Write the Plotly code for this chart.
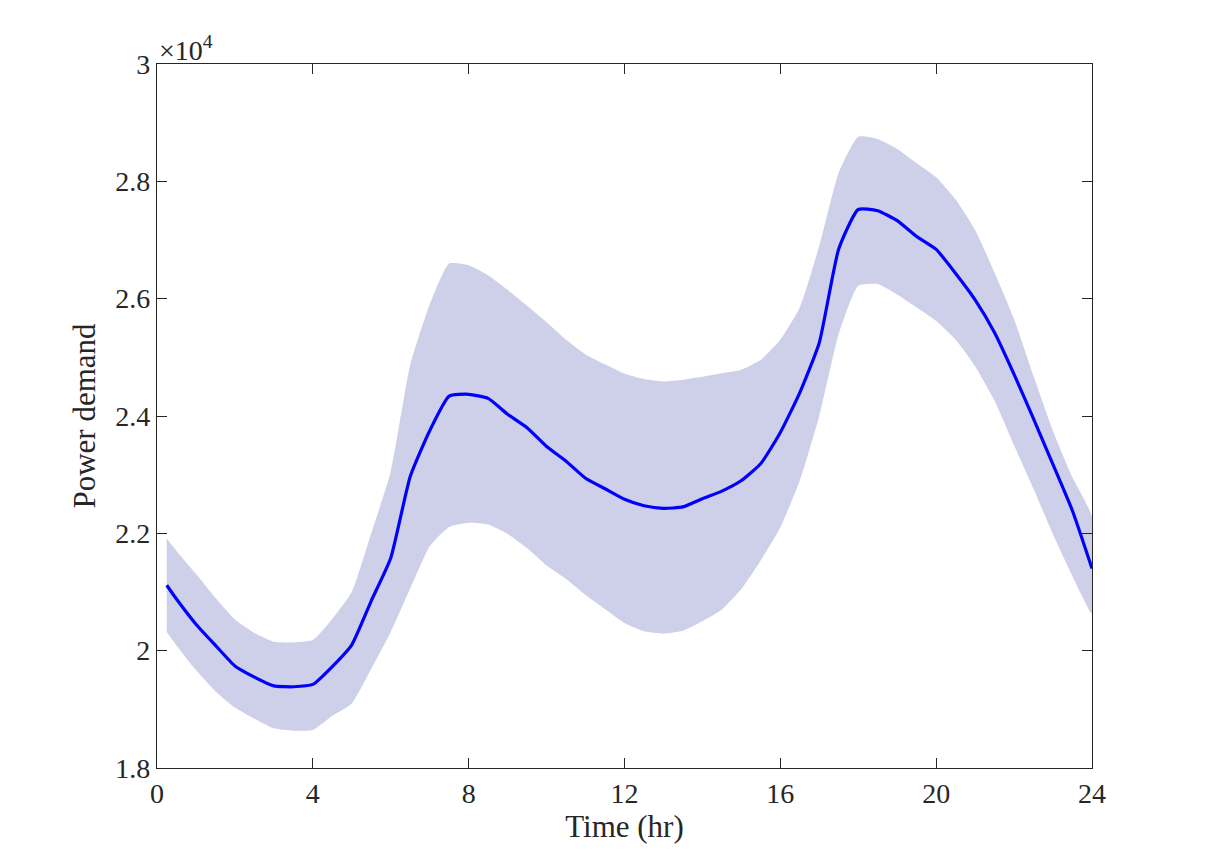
import plotly.graph_objects as go

time_hr = [0.25, 0.5, 1.0, 1.5, 2.0, 2.5, 3.0, 3.5, 4.0, 4.5, 5.0, 5.5, 6.0, 6.5, 7.0, 7.5,
           8.0, 8.5, 9.0, 9.5, 10.0, 10.5, 11.0, 11.5, 12.0, 12.5, 13.0, 13.5, 14.0, 14.5,
           15.0, 15.5, 16.0, 16.5, 17.0, 17.5, 18.0, 18.5, 19.0, 19.5, 20.0, 20.5, 21.0,
           21.5, 22.0, 22.5, 23.0, 23.5, 24.0]

mean_demand = [21115, 20880, 20450, 20090, 19740, 19550, 19400, 19385, 19425, 19730, 20100,
               20850, 21580, 22970, 23750, 24340, 24370, 24300, 24030, 23800, 23480, 23230,
               22940, 22760, 22580, 22470, 22425, 22450, 22590, 22720, 22900, 23190, 23720,
               24400, 25250, 26850, 27520, 27500, 27330, 27060, 26840, 26430, 25980, 25420,
               24710, 23950, 23170, 22380, 21400]

upper_demand = [21910, 21700, 21310, 20900, 20530, 20300, 20150, 20140, 20180, 20540, 21000,
                22000, 23050, 24870, 25900, 26600, 26570, 26400, 26150, 25880, 25600, 25300,
                25050, 24880, 24720, 24630, 24590, 24620, 24670, 24730, 24790, 24960, 25300,
                25850, 26900, 28150, 28760, 28720, 28550, 28310, 28070, 27690, 27170, 26440,
                25650, 24680, 23740, 22950, 22280]

lower_demand = [20320, 20090, 19670, 19310, 19030, 18840, 18676, 18635, 18647, 18890, 19100,
                19690, 20320, 21060, 21780, 22110, 22180, 22150, 21990, 21750, 21450, 21220,
                20950, 20710, 20470, 20330, 20290, 20340, 20500, 20700, 21050, 21540, 22100,
                22900, 24000, 25400, 26220, 26250, 26070, 25850, 25620, 25300, 24850, 24260,
                23500, 22760, 21980, 21270, 20633]

x_ticks = [0, 4, 8, 12, 16, 20, 24]
y_tickvals = [18000, 20000, 22000, 24000, 26000, 28000, 30000]
y_ticktext = ["1.8", "2", "2.2", "2.4", "2.6", "2.8", "3"]

FONT = "Liberation Serif, Times New Roman, serif"
AXIS_COLOR = "rgb(38,38,38)"

fig = go.Figure()

fig.add_trace(go.Scatter(
    x=time_hr + time_hr[::-1],
    y=upper_demand + lower_demand[::-1],
    fill="toself",
    fillcolor="rgb(206,207,233)",
    line=dict(width=0, shape="spline", smoothing=0.5),
    mode="lines",
    hoverinfo="skip",
    showlegend=False,
))

fig.add_trace(go.Scatter(
    x=time_hr,
    y=mean_demand,
    mode="lines",
    line=dict(color="rgb(0,0,255)", width=3.2, shape="spline", smoothing=0.5),
    showlegend=False,
))

axis_common = dict(
    showgrid=False,
    zeroline=False,
    showline=True,
    linecolor=AXIS_COLOR,
    linewidth=1.3,
    mirror="allticks",
    ticks="inside",
    ticklen=10,
    tickwidth=1.1,
    tickcolor=AXIS_COLOR,
    tickfont=dict(family=FONT, size=28, color=AXIS_COLOR),
)

fig.update_xaxes(
    range=[0, 24],
    tickvals=x_ticks,
    ticktext=[str(v) for v in x_ticks],
    title=dict(text="Time (hr)", font=dict(family=FONT, size=31, color=AXIS_COLOR), standoff=6),
    **axis_common,
)
fig.update_yaxes(
    range=[18000, 30000],
    tickvals=y_tickvals,
    ticktext=y_ticktext,
    title=dict(text="Power demand", font=dict(family=FONT, size=31, color=AXIS_COLOR), standoff=10),
    **axis_common,
)

fig.add_annotation(
    text="×10<sup>4</sup>",
    xref="paper", yref="paper",
    x=0.0, y=1.0,
    xanchor="left", yanchor="bottom",
    showarrow=False,
    font=dict(family=FONT, size=28, color=AXIS_COLOR),
    yshift=-4,
)

fig.update_layout(
    width=1205,
    height=863,
    margin=dict(l=157, r=113, t=64, b=95),
    paper_bgcolor="white",
    plot_bgcolor="white",
    font=dict(family=FONT),
)

fig.write_html("out.html")
